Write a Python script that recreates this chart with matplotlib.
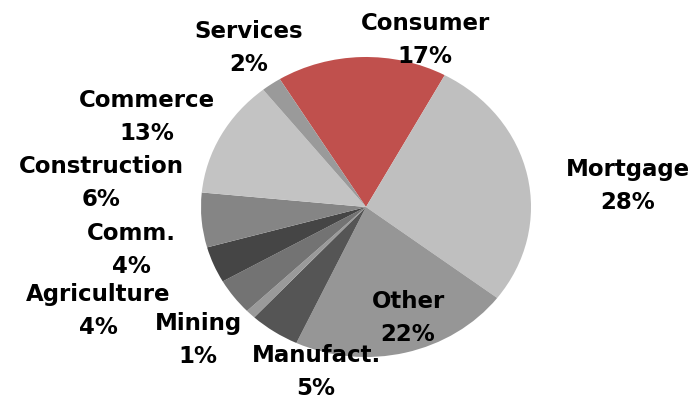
import matplotlib.pyplot as plt

# loan book composition, clockwise from the top
sectors = ["Consumer", "Mortgage", "Other", "Manufact.", "Mining",
           "Agriculture", "Comm.", "Construction", "Commerce", "Services"]
shares = [17, 28, 22, 5, 1, 4, 4, 6, 13, 2]
colors = ["#C0504D", "#BFBFBF", "#969696", "#555555", "#9A9A9A",
          "#737373", "#454545", "#858585", "#C3C3C3", "#9A9A9A"]

# label centres in pixels (x from left, y from top)
label_pos = [(425, 40), (628, 186), (408, 318), (316, 372), (198, 340),
             (98, 311), (131, 250), (101, 183), (147, 117), (249, 48)]

W, H = 698, 401
fig = plt.figure(figsize=(W / 100, H / 100), dpi=100)
ax = fig.add_axes([0, 0, 1, 1])

cx, cy = 366, 207      # pie centre, pixels
rx, ry = 165, 150      # horizontal / vertical radius, pixels

ax.pie(shares, colors=colors, startangle=121.5, counterclock=False,
       wedgeprops=dict(linewidth=0))
ax.set_aspect("auto")
ax.set_xlim(-cx / rx, (W - cx) / rx)
ax.set_ylim(-(H - cy) / ry, cy / ry)
ax.axis("off")

for name, val, (x, y) in zip(sectors, shares, label_pos):
    fig.text(x / W, 1 - y / H, f"{name}\n{val}%", ha="center", va="center",
             fontsize=16.5, fontweight="bold", family="DejaVu Sans",
             linespacing=1.55, color="black")

fig.savefig("out.png", dpi=100)
